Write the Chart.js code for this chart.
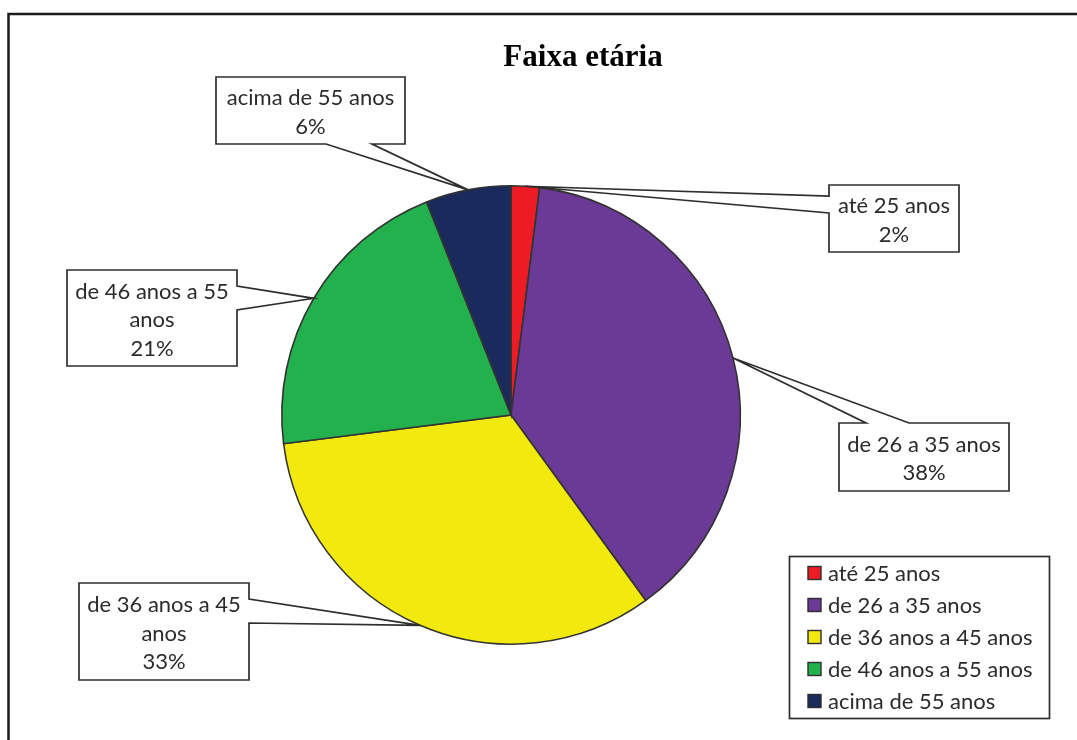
<!DOCTYPE html>
<html>
<head>
<meta charset="utf-8">
<script src="https://cdn.jsdelivr.net/npm/chart.js@4/dist/chart.umd.min.js"></script>
<style>
    html, body { margin: 0; padding: 0; background: #fff; }
    #wrap { position: absolute; left: 0; top: 0; width: 1077px; height: 740px; }
</style>
</head>
<body>
<div id="wrap"><canvas id="pie"></canvas></div>
<script>
// data
var categories = ['até 25 anos', 'de 26 a 35 anos', 'de 36 anos a 45 anos', 'de 46 anos a 55 anos', 'acima de 55 anos'];
var percents = [2, 38, 33, 21, 6];
var sliceColors = ['#ed1c24', '#6b3996', '#f2ea0f', '#22b14c', '#1b2a5c'];
// callout text lines (label wraps like the original)
var calloutLines = [
    ['até 25 anos'],
    ['de 26 a 35 anos'],
    ['de 36 anos a 45', 'anos'],
    ['de 46 anos a 55', 'anos'],
    ['acima de 55 anos']
];

// layout of the callout boxes: box rect, side the pointer leaves from, pointer base
var calloutLayout = [
    { x: 829, y: 185, w: 130, h: 67, side: 'left', b1: 196, b2: 213 },
    { x: 839, y: 423, w: 170, h: 68, side: 'top', b1: 866, b2: 909 },
    { x: 79, y: 583, w: 170, h: 97, side: 'right', b1: 599, b2: 623 },
    { x: 67, y: 270, w: 170, h: 96, side: 'right', b1: 286, b2: 310 },
    { x: 216, y: 77, w: 189, h: 67, side: 'bottom', b1: 326, b2: 372 }
];

var TEXT = '#2b2b2b';
var LINE = '#2e2e2e';
var FONT = '22px Lato, "Open Sans", sans-serif';

function calloutPath(ctx, b, tip) {
    var x0 = b.x, y0 = b.y, x1 = b.x + b.w, y1 = b.y + b.h;
    ctx.beginPath();
    ctx.moveTo(x0, y0);
    if (b.side === 'top') {
        ctx.lineTo(b.b1, y0); ctx.lineTo(tip.x, tip.y); ctx.lineTo(b.b2, y0);
    }
    ctx.lineTo(x1, y0);
    if (b.side === 'right') {
        ctx.lineTo(x1, b.b1); ctx.lineTo(tip.x, tip.y); ctx.lineTo(x1, b.b2);
    }
    ctx.lineTo(x1, y1);
    if (b.side === 'bottom') {
        ctx.lineTo(b.b2, y1); ctx.lineTo(tip.x, tip.y); ctx.lineTo(b.b1, y1);
    }
    ctx.lineTo(x0, y1);
    if (b.side === 'left') {
        ctx.lineTo(x0, b.b2); ctx.lineTo(tip.x, tip.y); ctx.lineTo(x0, b.b1);
    }
    ctx.closePath();
}

var framePlugin = {
    id: 'frame',
    beforeDraw: function (chart) {
        var ctx = chart.ctx;
        ctx.save();
        ctx.fillStyle = '#fff';
        ctx.fillRect(0, 0, chart.width, chart.height);
        ctx.strokeStyle = '#1a1a1a';
        ctx.lineWidth = 2.5;
        ctx.strokeRect(8.5, 14, 1200, 900);
        ctx.fillStyle = '#000';
        ctx.font = 'bold 31px "Liberation Serif", "Times New Roman", serif';
        ctx.textAlign = 'center';
        ctx.textBaseline = 'middle';
        ctx.fillText('Faixa etária', 583, 58);
        ctx.restore();
    }
};

var calloutPlugin = {
    id: 'callouts',
    afterDatasetsDraw: function (chart) {
        var ctx = chart.ctx;
        var meta = chart.getDatasetMeta(0);
        ctx.save();
        meta.data.forEach(function (arc, i) {
            var p = arc.getProps(['x', 'y', 'startAngle', 'endAngle', 'outerRadius'], true);
            var mid = (p.startAngle + p.endAngle) / 2;
            var tip = { x: p.x + Math.cos(mid) * p.outerRadius, y: p.y + Math.sin(mid) * p.outerRadius };
            var b = calloutLayout[i];
            calloutPath(ctx, b, tip);
            ctx.fillStyle = '#fff';
            ctx.fill();
            ctx.strokeStyle = LINE;
            ctx.lineWidth = 1.7;
            ctx.lineJoin = 'miter';
            ctx.stroke();

            var lines = calloutLines[i].concat([percents[i] + '%']);
            var step = 28.5;
            var cy = b.y + b.h / 2 - (lines.length - 1) * step / 2 + 2;
            ctx.fillStyle = TEXT;
            ctx.font = FONT;
            ctx.textAlign = 'center';
            ctx.textBaseline = 'middle';
            lines.forEach(function (t, k) {
                ctx.fillText(t, b.x + b.w / 2, cy + k * step);
            });
        });
        ctx.restore();
    }
};

var legendPlugin = {
    id: 'boxLegend',
    afterDraw: function (chart) {
        var ctx = chart.ctx;
        ctx.save();
        ctx.strokeStyle = LINE;
        ctx.lineWidth = 1.7;
        ctx.strokeRect(789.5, 556.5, 260, 162);
        ctx.font = FONT;
        ctx.textAlign = 'left';
        ctx.textBaseline = 'middle';
        categories.forEach(function (name, i) {
            var y = 573 + i * 32;
            ctx.fillStyle = sliceColors[i];
            ctx.fillRect(808, y - 6.5, 13, 13);
            ctx.strokeStyle = LINE;
            ctx.lineWidth = 1.4;
            ctx.strokeRect(808, y - 6.5, 13, 13);
            ctx.fillStyle = TEXT;
            ctx.fillText(name, 828, y + 1);
        });
        ctx.restore();
    }
};

new Chart(document.getElementById('pie').getContext('2d'), {
    type: 'pie',
    data: {
        labels: categories,
        datasets: [{
            data: percents,
            backgroundColor: sliceColors,
            borderColor: '#333333',
            borderWidth: 1.6,
            borderJoinStyle: 'miter'
        }]
    },
    options: {
        responsive: true,
        maintainAspectRatio: false,
        animation: false,
        layout: { padding: { left: 281, right: 336, top: 185, bottom: 95 } },
        plugins: {
            legend: { display: false },
            tooltip: { enabled: false },
            title: { display: false }
        }
    },
    plugins: [framePlugin, calloutPlugin, legendPlugin]
});
</script>
</body>
</html>
